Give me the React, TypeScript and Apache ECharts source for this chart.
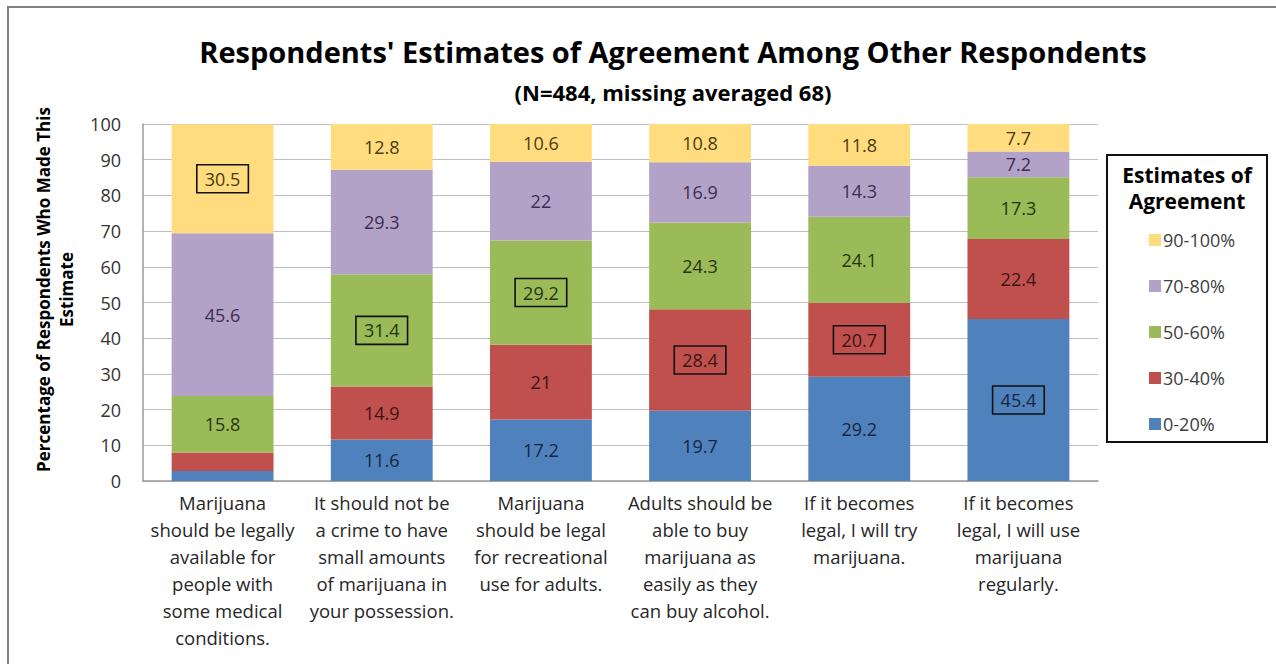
import React, { useEffect, useRef } from "react";
import * as echarts from "echarts";

const categories = [
  "Marijuana\nshould be legally\navailable for\npeople with\nsome medical\nconditions.",
  "It should not be\na crime to have\nsmall amounts\nof marijuana in\nyour possession.",
  "Marijuana\nshould be legal\nfor recreational\nuse for adults.",
  "Adults should be\nable to buy\nmarijuana as\neasily as they\ncan buy alcohol.",
  "If it becomes\nlegal, I will try\nmarijuana.",
  "If it becomes\nlegal, I will use\nmarijuana\nregularly.",
];

const seriesNames = ["0-20%", "30-40%", "50-60%", "70-80%", "90-100%"];
const v0_20 = [2.8, 11.6, 17.2, 19.7, 29.2, 45.4];
const v30_40 = [5.2, 14.9, 21, 28.4, 20.7, 22.4];
const v50_60 = [15.8, 31.4, 29.2, 24.3, 24.1, 17.3];
const v70_80 = [45.6, 29.3, 22, 16.9, 14.3, 7.2];
const v90_100 = [30.5, 12.8, 10.6, 10.8, 11.8, 7.7];
const yTicks = [0, 10, 20, 30, 40, 50, 60, 70, 80, 90, 100];
// series index whose label is boxed, per category
const boxedSeries = [4, 2, 2, 1, 1, 0];

const seriesValues = [v0_20, v30_40, v50_60, v70_80, v90_100];
const colors = ["#4F81BD", "#C0504D", "#9BBB59", "#B3A2C7", "#FFDD7F"];
const labelColors = ["#16263d", "#3a1414", "#26350f", "#3b2d55", "#4a3a10"];

const FONT = "'Open Sans', Lato, sans-serif";

export default function App() {
  const ref = useRef<HTMLDivElement>(null);
  useEffect(() => {
    document.body.style.margin = "0";
    if (!ref.current) return;
    const chart = echarts.init(ref.current, undefined, { renderer: "svg" });

    const series = seriesValues.map((vals, si) => ({
      name: seriesNames[si],
      type: "bar",
      stack: "total",
      barWidth: "64%",
      itemStyle: { color: colors[si] },
      data: vals.map((v, ci) => {
        const boxed = boxedSeries[ci] === si;
        return {
          value: v,
          label: {
            show: v >= 6,
            position: "inside",
            fontFamily: FONT,
            fontSize: 18,
            color: labelColors[si],
            formatter: String(v),
            ...(boxed
              ? { borderColor: "#111", borderWidth: 1.6, padding: [6, 8, 4, 8] }
              : {}),
          },
        };
      }),
    }));

    chart.setOption({
      animation: false,
      backgroundColor: "#fff",
      textStyle: { fontFamily: FONT },
      title: [
        {
          text: "Respondents' Estimates of Agreement Among Other Respondents",
          left: 668,
          textAlign: "center",
          top: 32,
          textStyle: { fontFamily: FONT, fontSize: 29, fontWeight: "bold", color: "#000" },
        },
        {
          text: "(N=484, missing averaged 68)",
          left: 668,
          textAlign: "center",
          top: 76,
          textStyle: { fontFamily: FONT, fontSize: 22, fontWeight: "bold", color: "#000" },
        },
      ],
      grid: { left: 143, right: 178, top: 124, bottom: 183 },
      legend: {
        orient: "vertical",
        left: 1144,
        top: 226,
        itemWidth: 12,
        itemHeight: 12,
        itemGap: 28,
        icon: "rect",
        data: ["90-100%", "70-80%", "50-60%", "30-40%", "0-20%"],
        textStyle: { fontFamily: FONT, fontSize: 18, color: "#404040", padding: [0, 0, 0, -3] },
      },
      xAxis: {
        type: "category",
        data: categories,
        axisLine: { lineStyle: { color: "#999", width: 1.5 } },
        axisTick: { show: false },
        axisLabel: {
          interval: 0,
          margin: 8,
          fontFamily: FONT,
          fontSize: 18.5,
          lineHeight: 27,
          color: "#262626",
        },
      },
      yAxis: {
        type: "value",
        min: 0,
        max: 100,
        interval: 10,
        name: "Percentage of Respondents Who Made This\nEstimate",
        nameLocation: "middle",
        nameRotate: 90,
        nameGap: 65,
        nameTextStyle: {
          fontFamily: FONT,
          fontSize: 17,
          fontWeight: "bold",
          color: "#000",
          lineHeight: 23,
          padding: [0, 0, 0, 26],
        },
        axisLine: { show: true, lineStyle: { color: "#999", width: 1.5 } },
        axisTick: { show: false },
        splitLine: { lineStyle: { color: "#BFBFBF", width: 1 } },
        axisLabel: {
          margin: 22,
          fontFamily: FONT,
          fontSize: 18,
          color: "#333",
          formatter: (v: number) => (yTicks.includes(v) ? String(v) : ""),
        },
      },
      graphic: [
        {
          type: "polyline",
          shape: { points: [[8, 700], [8, 7], [1290, 7]] },
          style: { stroke: "#808080", lineWidth: 2, fill: "none" },
          silent: true,
        },
        {
          type: "rect",
          shape: { x: 1107, y: 155, width: 160, height: 287 },
          style: { stroke: "#111", lineWidth: 2, fill: "none" },
          silent: true,
        },
        {
          type: "text",
          x: 1187,
          y: 162,
          style: {
            text: "Estimates of\nAgreement",
            fontFamily: FONT,
            fontSize: 21,
            fontWeight: "bold",
            fill: "#000",
            align: "center",
            verticalAlign: "top",
            lineHeight: 26,
          },
          silent: true,
        },
      ],
      series,
    });
    return () => chart.dispose();
  }, []);
  return <div ref={ref} style={{ width: 1276, height: 664 }} />;
}
